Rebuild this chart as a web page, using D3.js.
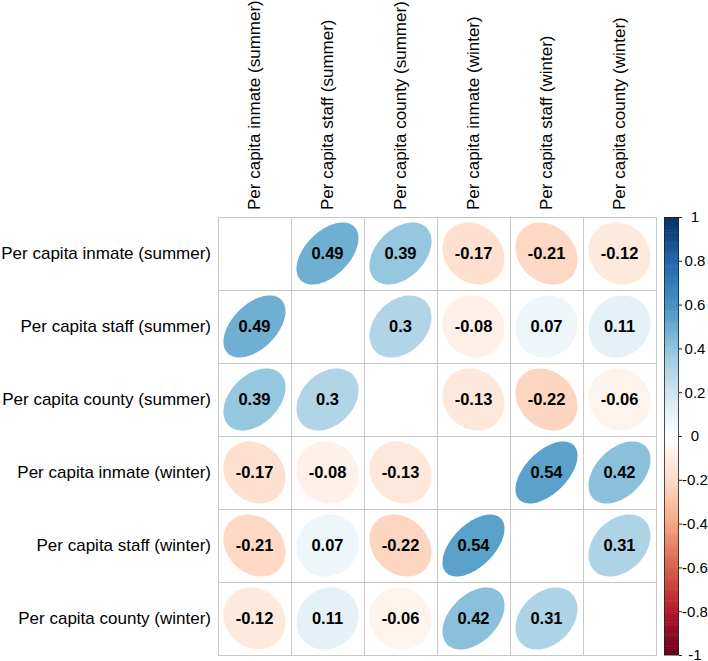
<!DOCTYPE html>
<html>
<head>
<meta charset="utf-8">
<script src="https://cdn.jsdelivr.net/npm/d3@7"></script>
<style>
  body { margin: 0; background: #fff; }
  svg { font-family: "Liberation Sans", Arial, sans-serif; }
</style>
</head>
<body>
<svg width="708" height="661"></svg>
<script>
// variables (rows and columns are the same)
const vars = [
  "Per capita inmate (summer)",
  "Per capita staff (summer)",
  "Per capita county (summer)",
  "Per capita inmate (winter)",
  "Per capita staff (winter)",
  "Per capita county (winter)"
];

// correlation matrix, one row per variable
const row1 = [1, 0.49, 0.39, -0.17, -0.21, -0.12];
const row2 = [0.49, 1, 0.3, -0.08, 0.07, 0.11];
const row3 = [0.39, 0.3, 1, -0.13, -0.22, -0.06];
const row4 = [-0.17, -0.08, -0.13, 1, 0.54, 0.42];
const row5 = [-0.21, 0.07, -0.22, 0.54, 1, 0.31];
const row6 = [-0.12, 0.11, -0.06, 0.42, 0.31, 1];
const corr = [row1, row2, row3, row4, row5, row6];

// RdBu palette stops (corrplot default)
const palette = ["#67001F", "#B2182B", "#D6604D", "#F4A582", "#FDDBC7", "#FFFFFF",
                 "#D1E5F0", "#92C5DE", "#4393C3", "#2166AC", "#053061"];
const legendTicks = [1, 0.8, 0.6, 0.4, 0.2, 0, -0.2, -0.4, -0.6, -0.8, -1];

const svg = d3.select("svg");
const gridLeft = 218, gridTop = 217, size = 438;

const x = d3.scaleBand().domain(d3.range(vars.length)).range([gridLeft, gridLeft + size]);
const y = d3.scaleBand().domain(d3.range(vars.length)).range([gridTop, gridTop + size]);

const color = d3.scaleLinear()
  .domain(d3.range(palette.length).map(i => -1 + 2 * i / (palette.length - 1)))
  .range(palette)
  .interpolate(d3.interpolateRgb);

// flatten to cells
const cells = [];
corr.forEach((r, i) => r.forEach((v, j) => cells.push({ i, j, v })));

// grid
const grid = svg.append("g");
cells.forEach(d => {
  grid.append("rect")
    .attr("x", x(d.j) + 0.5).attr("y", y(d.i) + 0.5)
    .attr("width", x.bandwidth()).attr("height", y.bandwidth())
    .attr("fill", "none").attr("stroke", "#C8C8C8").attr("stroke-width", 1);
});

// ellipse outline like corrplot: x = cos(k + acos(r)/2)/2, y = cos(k - acos(r)/2)/2
function ellipse(r, s) {
  const a = Math.acos(r);
  const pts = d3.range(99).map(n => {
    const k = 2 * Math.PI * n / 98;
    return [0.85 * s * Math.cos(k + a / 2) / 2, -0.85 * s * Math.cos(k - a / 2) / 2];
  });
  return d3.line()(pts) + "Z";
}

const offDiag = cells.filter(d => d.i !== d.j);

const cellG = svg.append("g").selectAll("g")
  .data(offDiag)
  .enter()
  .append("g")
  .attr("transform", d => `translate(${x(d.j) + x.bandwidth() / 2},${y(d.i) + y.bandwidth() / 2})`);

cellG.append("path")
  .attr("d", d => ellipse(d.v, x.bandwidth()))
  .attr("fill", d => color(d.v));

cellG.append("text")
  .attr("text-anchor", "middle")
  .attr("dy", "0.36em")
  .style("font-size", "16.5px")
  .style("font-weight", "bold")
  .attr("fill", "#000")
  .text(d => String(+d.v.toFixed(2)));

// row labels
svg.append("g").selectAll("text")
  .data(vars)
  .enter()
  .append("text")
  .attr("x", gridLeft - 7)
  .attr("y", (d, i) => y(i) + y.bandwidth() / 2)
  .attr("dy", "0.35em")
  .attr("text-anchor", "end")
  .style("font-size", "17px")
  .text(d => d);

// column labels, rotated
svg.append("g").selectAll("text")
  .data(vars)
  .enter()
  .append("text")
  .attr("transform", (d, i) => `translate(${x(i) + x.bandwidth() / 2},${gridTop - 7}) rotate(-90)`)
  .attr("dy", "0.35em")
  .attr("text-anchor", "start")
  .style("font-size", "17px")
  .text(d => d);

// colour legend
const lx = 664, lw = 15;
const ly = d3.scaleLinear().domain([1, -1]).range([gridTop, gridTop + size]);
const steps = d3.range(200).map(n => -1 + (n + 0.5) * 2 / 200);
svg.append("g").selectAll("rect")
  .data(steps)
  .enter()
  .append("rect")
  .attr("x", lx)
  .attr("y", d => ly(d + 0.005))
  .attr("width", lw)
  .attr("height", size / 200 + 0.5)
  .attr("fill", d => color(d));
svg.append("rect")
  .attr("x", lx + 0.5).attr("y", gridTop + 0.5)
  .attr("width", lw - 1).attr("height", size - 1)
  .attr("fill", "none").attr("stroke", "#222").attr("stroke-width", 0.8);

const axis = svg.append("g")
  .attr("transform", `translate(${lx + lw},0)`)
  .call(d3.axisRight(ly).tickValues(legendTicks).tickSize(3).tickPadding(0)
    .tickFormat(d => String(d)));
axis.select(".domain").remove();
axis.selectAll("line").attr("stroke", "#222");
axis.selectAll("text")
  .attr("x", 16)
  .attr("text-anchor", "middle")
  .style("font-size", "15px")
  .style("font-family", "Liberation Sans, Arial, sans-serif")
  .attr("fill", "#000");
</script>
</body>
</html>
